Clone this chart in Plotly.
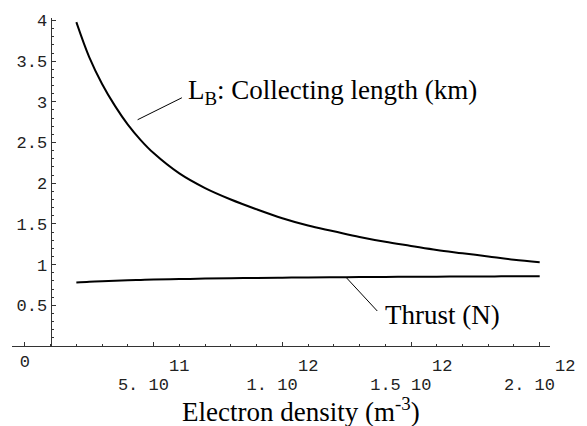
import plotly.graph_objects as go

# Electron density (units of 1e11 m^-3)
density_e11 = [2, 2.5, 3, 3.5, 4, 4.5, 5, 6, 7, 8, 9, 10, 11, 12, 13, 14, 15, 16, 17, 18, 19, 20]
# L_B: collecting length (km)
collecting_length = [3.98, 3.55, 3.22, 2.95, 2.72, 2.53, 2.37, 2.12, 1.94, 1.80, 1.68, 1.57,
                     1.48, 1.41, 1.34, 1.28, 1.23, 1.18, 1.14, 1.10, 1.06, 1.03]
# Thrust (N)
thrust = [0.78, 0.790, 0.797, 0.803, 0.808, 0.812, 0.816, 0.822, 0.828, 0.833, 0.837, 0.840,
          0.843, 0.845, 0.847, 0.849, 0.851, 0.852, 0.854, 0.855, 0.856, 0.857]

x_tickvals = [0, 5e11, 1e12, 1.5e12, 2e12]
x_ticktext = ["0", "5. 10", "1. 10", "1.5 10", "2. 10"]
x_tickexp = ["", "11", "12", "12", "12"]
y_tickvals = [0.5, 1, 1.5, 2, 2.5, 3, 3.5, 4]
y_ticktext = ["0.5", "1", "1.5", "2", "2.5", "3", "3.5", "4"]

TICK_FS = 17
CHAR_W = 0.6 * TICK_FS  # monospace advance
LABEL_FS = 27


def hidden(n):
    return '<span style="color:rgba(255,255,255,0)">' + "0" * n + "</span>" if n else ""


def label(base, exp):
    if not exp:
        return base
    # first row left empty (exponent drawn separately), mantissa on second row
    return hidden(1) + "<br>" + base + hidden(len(exp))


x_labels = [label(b, e) for b, e in zip(x_ticktext, x_tickexp)]

x = [v * 1e11 for v in density_e11]

W, H = 587, 426
ML, MR, MT, MB = 12, 27, 17, 80
PH = H - MT - MB
x_range = [-0.5e11, 2.04e12]
y_range = [0, 4.03]
y_axis_at = 1e11
y_pos = (y_axis_at - x_range[0]) / (x_range[1] - x_range[0])

mono = "Liberation Mono, Courier New, monospace"
serif = "Liberation Serif, Times New Roman, serif"
axcol = "#333333"

fig = go.Figure()
fig.add_trace(go.Scatter(x=x, y=collecting_length, mode="lines",
                         line=dict(color="black", width=2, shape="spline", smoothing=1.0),
                         showlegend=False, hoverinfo="skip"))
fig.add_trace(go.Scatter(x=x, y=thrust, mode="lines",
                         line=dict(color="black", width=2, shape="spline", smoothing=1.0),
                         showlegend=False, hoverinfo="skip"))

fig.update_layout(
    width=W, height=H,
    margin=dict(l=ML, r=MR, t=MT, b=MB),
    paper_bgcolor="white", plot_bgcolor="white",
    xaxis=dict(range=x_range, showgrid=False, zeroline=False,
               showline=True, linecolor=axcol, linewidth=1,
               ticks="inside", ticklen=4, tickcolor=axcol, tickwidth=1,
               tickvals=x_tickvals, ticktext=x_labels,
               tickfont=dict(family=mono, size=TICK_FS, color="#222"),
               minor=dict(dtick=1e11, tick0=0, ticks="inside", ticklen=2.5, tickcolor=axcol),
               anchor="y"),
    yaxis=dict(range=y_range, showgrid=False, zeroline=False,
               showline=True, linecolor=axcol, linewidth=1,
               anchor="free", position=y_pos,
               ticks="inside", ticklen=4, tickcolor=axcol, tickwidth=1,
               tickvals=y_tickvals, ticktext=y_ticktext,
               tickfont=dict(family=mono, size=TICK_FS, color="#222"),
               minor=dict(dtick=0.1, tick0=0, ticks="inside", ticklen=2.5, tickcolor=axcol)),
)

# exponents of the x tick labels (Mathematica style, raised row)
for tv, b, e in zip(x_tickvals, x_ticktext, x_tickexp):
    if e:
        fig.add_annotation(x=tv, xref="x", yref="paper", y=-(367 - (H - MB)) / PH,
                           text=e, showarrow=False, xanchor="center", yanchor="middle",
                           xshift=len(b) * CHAR_W / 2,
                           font=dict(family=mono, size=TICK_FS, color="#222"))

# axis title
fig.add_annotation(xref="paper", yref="paper", x=(306 - ML) / (W - ML - MR),
                   y=-(410 - (H - MB)) / PH,
                   text="Electron density (m<sup>-3</sup>)", showarrow=False,
                   xanchor="center", yanchor="middle",
                   font=dict(family=serif, size=LABEL_FS, color="black"))

# curve labels
fig.add_annotation(x=6.25e11, y=3.125, text="L<sub>B</sub>: Collecting length (km)",
                   showarrow=False, xanchor="left", yanchor="middle",
                   font=dict(family=serif, size=LABEL_FS, color="black"))
fig.add_annotation(x=13.92e11, y=0.38, text="Thrust (N)",
                   showarrow=False, xanchor="left", yanchor="middle",
                   font=dict(family=serif, size=LABEL_FS, color="black"))

# leader lines
fig.add_shape(type="line", x0=4.38e11, y0=2.78, x1=6.10e11, y1=3.05,
              line=dict(color="black", width=1))
fig.add_shape(type="line", x0=12.47e11, y0=0.846, x1=13.69e11, y1=0.43,
              line=dict(color="black", width=1))

fig.write_html("out.html")
